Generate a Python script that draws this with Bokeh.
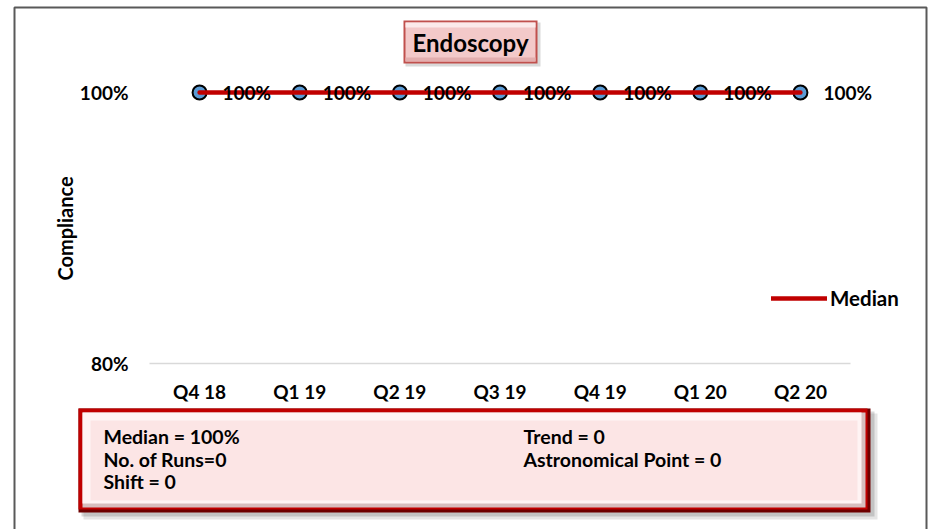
import math
from bokeh.plotting import figure
from bokeh.models import (Range1d, LinearAxis, FixedTicker, NumeralTickFormatter,
                          ColumnDataSource, LabelSet, Label, Legend, LegendItem)
from bokeh.core.properties import value
from bokeh.embed import file_html
from bokeh.resources import INLINE

# ---------------- data ----------------
quarters = ["Q4 18", "Q1 19", "Q2 19", "Q3 19", "Q4 19", "Q1 20", "Q2 20"]
compliance = [1.00, 1.00, 1.00, 1.00, 1.00, 1.00, 1.00]
median = [1.00, 1.00, 1.00, 1.00, 1.00, 1.00, 1.00]
y_ticks = [0.80, 1.00]
chart_title = "Endoscopy"
y_title = "Compliance"
legend_label = "Median"
stats_left = ["Median = 100%", "No. of Runs=0", "Shift = 0"]
stats_right = ["Trend = 0", "Astronomical Point = 0"]

# ---------------- layout (canvas pixels) ----------------
FONT = "Lato"
W, H = 930, 529
FL, FR = 149, 850          # plot area left / right
Y100, FB = 92, 363         # canvas y of top tick and bottom tick

n = len(quarters)
ppx = (FR - FL) / n
ppy = (FB - Y100) / (y_ticks[1] - y_ticks[0])
x_start, x_end = -FL / ppx, (W - FL) / ppx
y_start, y_end = y_ticks[0] - (H - FB) / ppy, y_ticks[1] + Y100 / ppy

xpos = [i + 0.5 for i in range(n)]

p = figure(width=W, height=H, output_backend="svg", toolbar_location=None,
           x_range=Range1d(x_start, x_end), y_range=Range1d(y_start, y_end),
           x_axis_type=None, y_axis_type=None, min_border=0)
p.title.visible = False
p.outline_line_color = None
p.background_fill_color = "white"
p.border_fill_color = "white"
p.extra_x_ranges = {"px": Range1d(0, W)}
p.extra_y_ranges = {"px": Range1d(H, 0)}

PXR = dict(x_range_name="px", y_range_name="px")


def quad(x0, y0, x1, y1, fill, alpha=1.0, line=None, lw=1.0):
    p.quad(left=x0, right=x1, top=y0, bottom=y1, fill_color=fill, fill_alpha=alpha,
           line_color=line, line_width=lw, **PXR)


def text(x, y, t, size="18px", align="left"):
    p.text(x=[x], y=[y], text=[t], text_font=value(FONT), text_font_style="bold",
           text_font_size=size, text_color="black", text_align=align,
           text_baseline="middle", **PXR)


# outer chart border
quad(14, 7, 926, 560, None, alpha=0.0, line="#595959", lw=2)

# ---------------- axes ----------------
xaxis = LinearAxis(ticker=FixedTicker(ticks=xpos),
                   major_label_overrides={x: q for x, q in zip(xpos, quarters)},
                   fixed_location=y_ticks[0])
yaxis = LinearAxis(ticker=FixedTicker(ticks=y_ticks),
                   formatter=NumeralTickFormatter(format="0%"),
                   fixed_location=0)
for ax in (xaxis, yaxis):
    ax.axis_line_color = None
    ax.major_tick_line_color = None
    ax.minor_tick_line_color = None
    ax.major_tick_in = 0
    ax.major_tick_out = 0
    ax.major_label_text_font = FONT
    ax.major_label_text_font_style = "bold"
    ax.major_label_text_font_size = "19px"
    ax.major_label_text_color = "black"
xaxis.major_label_standoff = 16
yaxis.major_label_standoff = 21
p.add_layout(xaxis, "below")
p.add_layout(yaxis, "left")

# horizontal axis line at the lowest tick
p.segment(x0=[0], x1=[n], y0=[y_ticks[0]], y1=[y_ticks[0]],
          line_color="#D9D9D9", line_width=1.5)

# ---------------- series ----------------
src = ColumnDataSource(dict(x=xpos, c=compliance, m=median,
                            lbl=[f"{v:.0%}" for v in compliance]))
p.scatter("x", "c", source=src, size=14, fill_color="#5B9BD5",
          line_color="black", line_width=2)
med = p.line("x", "m", source=src, line_color="#C00000", line_width=4.5, line_cap="round")
p.add_layout(LabelSet(x="x", y="c", text="lbl", source=src, x_offset=23,
                      text_font=value(FONT), text_font_style="bold", text_font_size="19px",
                      text_color="black", text_align="left", text_baseline="middle"))

legend = Legend(items=[LegendItem(label=legend_label, renderers=[med])],
                location=(771, H - 310), glyph_width=56, glyph_height=20,
                label_standoff=3, padding=0, margin=0, border_line_color=None,
                background_fill_alpha=0.0, label_text_font=FONT,
                label_text_font_style="bold", label_text_font_size="20.5px",
                label_text_color="black")
p.add_layout(legend)

# y axis title
p.add_layout(Label(x=64, y=H - 228, x_units="screen", y_units="screen", text=y_title,
                   text_font=FONT, text_font_style="bold", text_font_size="20px",
                   text_color="black", text_align="center", text_baseline="middle",
                   angle=math.pi / 2))

# ---------------- title box ----------------
quad(405, 22, 540, 66, "#000000", alpha=0.15)
quad(403, 20, 537, 63, "#C0504D")
quad(405, 22, 535, 61, "#F3C9C9")
quad(405, 22, 535, 27, "#FBEAEA")
quad(405, 57, 535, 61, "#E3AEAE")
text(470, 42, chart_title, size="24px", align="center")

# ---------------- stats box ----------------
quad(83, 413, 877, 519, "#000000", alpha=0.10)
quad(81, 411, 874, 516, "#000000", alpha=0.15)
quad(78, 408, 870, 512, "#6E0000")
quad(78, 408, 867, 509, "#C00000")
quad(82, 412, 865, 507, "#D7BEBE")
quad(82, 412, 861, 503, "#FFF4F4")
quad(90, 420, 857, 500, "#FCE5E5")
for i, t in enumerate(stats_left):
    text(103, 436 + i * 22.5, t, size="19.5px")
for i, t in enumerate(stats_right):
    text(523, 436 + i * 22.5, t, size="19.5px")

open("out.html", "w").write(file_html(p, INLINE))
